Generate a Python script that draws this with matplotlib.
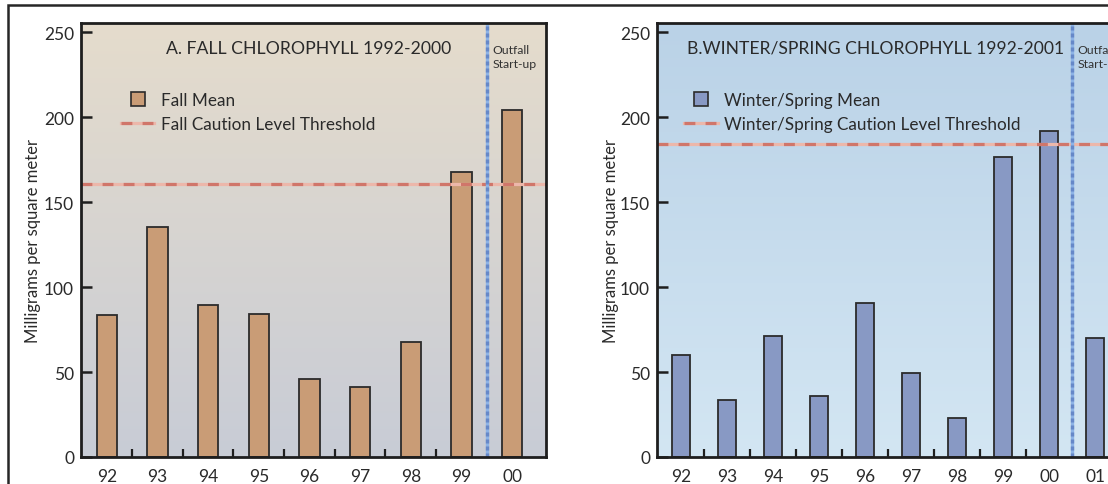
import matplotlib.pyplot as plt
import numpy as np
from matplotlib.patches import Rectangle
from matplotlib.lines import Line2D

plt.rcParams['font.family'] = ['Lato', 'DejaVu Sans']

# panel A: fall
years_a = ['92', '93', '94', '95', '96', '97', '98', '99', '00']
fall_mean = [83.7, 135.3, 89.5, 84.1, 45.7, 41.2, 67.5, 167.6, 204.0]
fall_threshold = 160.6
startup_a = '00'

# panel B: winter/spring
years_b = ['92', '93', '94', '95', '96', '97', '98', '99', '00', '01']
ws_mean = [60.0, 33.3, 71.2, 36.1, 90.4, 49.6, 22.7, 176.3, 191.6, 70.2]
ws_threshold = 184.1
startup_b = '01'

yticks = [0, 50, 100, 150, 200, 250]

W, H = 1108, 485
fig = plt.figure(figsize=(W / 100, H / 100), dpi=100)
fig.patch.set_facecolor('white')

# outer frame, cropped at bottom/right like the reference
fig.add_artist(Rectangle((8 / W, -0.2), 1.3, (H - 6) / H + 0.2, transform=fig.transFigure,
                         fill=False, lw=1.8, ec='#262626'))


def panel(rect, xlim, years, values, thr, startup, bar_color, top_col, bot_col,
          title, mean_label, thr_label, label_x, leg_x):
    ax = fig.add_axes(rect)
    x = np.arange(len(years))
    ymax = 255.3

    # vertical gradient background
    n = 256
    t = np.linspace(0, 1, n)[:, None]
    top = np.array(top_col) / 255
    bot = np.array(bot_col) / 255
    grad = (top * (1 - t) + bot * t)[:, None, :]
    ax.imshow(grad, extent=[xlim[0], xlim[1], 0, ymax], aspect='auto', zorder=0,
              interpolation='bilinear')

    ax.bar(x, values, width=0.4, color=bar_color, edgecolor='#2b2b2b', lw=1.3, zorder=3)

    ax.axhline(thr, color='#ecb7aa', lw=2.3, zorder=4)
    ax.axhline(thr, color='#d0766a', lw=2.3, dashes=(3.4, 3.2), zorder=4)

    sx = years.index(startup) - 0.5
    ax.axvline(sx, color='#8db3e6', lw=2.4, zorder=5)
    ax.axvline(sx, color='#6688c8', lw=2.4, dashes=(1.2, 0.9), zorder=5)
    ax.text(sx + 0.12, 243, 'Outfall\nStart-up', fontsize=8.8, color='#333333',
            va='top', ha='left', linespacing=1.3, zorder=6)

    ax.text(title[1], 0.943, title[0], transform=ax.transAxes, fontsize=title[2],
            color='#2a2a2a', va='center', ha='left', zorder=6)

    h1 = Line2D([], [], marker='s', ls='none', markersize=10.5,
                markerfacecolor=bar_color, markeredgecolor='#2b2b2b', markeredgewidth=1.2)
    h2a = Line2D([], [], color='#ecb7aa', lw=2.3)
    h2b = Line2D([], [], color='#d0766a', lw=2.3, dashes=(3.4, 3.2))
    leg = ax.legend([h1, (h2a, h2b)], [mean_label, thr_label], loc='upper left',
                    bbox_to_anchor=(leg_x, 0.842), frameon=False, fontsize=12.3,
                    handlelength=1.95, handletextpad=0.4, labelspacing=0.5,
                    borderpad=0, borderaxespad=0)
    for txt in leg.get_texts():
        txt.set_color('#2a2a2a')
    leg.set_zorder(7)

    ax.set_xlim(*xlim)
    ax.set_ylim(0, ymax)
    ax.set_yticks(yticks)
    ax.set_xticks(x)
    ax.set_xticklabels(years)
    ax.set_xticks(np.arange(len(years) - 2) + 0.5, minor=True)
    ax.tick_params(axis='x', which='major', length=0, pad=8, labelsize=12.5,
                   labelcolor='#2a2a2a')
    ax.tick_params(axis='x', which='minor', direction='in', length=6, width=1.6,
                   color='#1e1e1e')
    ax.tick_params(axis='y', direction='in', length=8, width=1.8, pad=5,
                   labelsize=12.5, labelcolor='#2a2a2a', color='#1e1e1e')
    for side in ['left', 'right', 'top', 'bottom']:
        ax.spines[side].set_linewidth(2.0)
        ax.spines[side].set_color('#1e1e1e')
        ax.spines[side].set_zorder(8)
    ax.set_ylabel('Milligrams per square meter', fontsize=12, color='#2a2a2a')
    ax.yaxis.set_label_coords(label_x, 0.5)
    return ax


bottom = 27 / H
height = 434 / H

panel([81 / W, bottom, 465 / W, height], (-0.51, 8.67), years_a, fall_mean,
      fall_threshold, startup_a, '#c99c76', (229, 220, 204), (200, 204, 214),
      ('A. FALL CHLOROPHYLL 1992-2000', 0.183, 12.7), 'Fall Mean',
      'Fall Caution Level Threshold', -0.086, 0.086)

panel([657 / W, bottom, 469 / W, height], (-0.52, 9.67), years_b, ws_mean,
      ws_threshold, startup_b, '#8899c4', (186, 210, 231), (211, 230, 243),
      ('B.WINTER/SPRING CHLOROPHYLL 1992-2001', 0.064, 12.6), 'Winter/Spring Mean',
      'Winter/Spring Caution Level Threshold', -0.082, 0.058)

fig.savefig('out.png', dpi=100)
